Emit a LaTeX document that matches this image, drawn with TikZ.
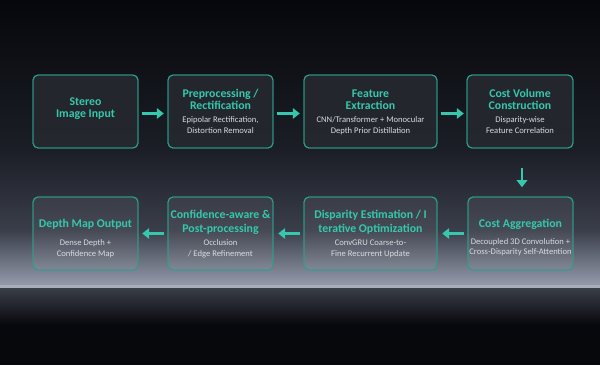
\documentclass[tikz,border=0pt]{standalone}
\usepackage{fontspec}
\setmainfont{Carlito}
\usetikzlibrary{arrows.meta}
\definecolor{teal1}{HTML}{36C8AE}
\definecolor{bord}{HTML}{2E9E8E}
\definecolor{subc}{HTML}{D8DBE0}
\definecolor{bg0}{HTML}{06070B}
\definecolor{bg1}{HTML}{1B1E26}
\definecolor{bg2}{HTML}{3A3E4A}
\definecolor{bg3}{HTML}{959BAB}
\definecolor{bgl}{HTML}{A8ADBA}
\definecolor{bg4}{HTML}{3A3E48}
\definecolor{bg5}{HTML}{07080C}
\definecolor{boxf}{HTML}{25282E}
\tikzset{
  box/.style={draw=bord, line width=0.9pt, rounded corners=5pt},
  boxa/.style={box, fill=boxf, fill opacity=0.92},
  boxb/.style={box, fill=white, fill opacity=0.06},
  ttl/.style={text=teal1, font=\fontsize{11.8}{12}\selectfont\bfseries, anchor=base, inner sep=0pt},
  sub/.style={text=subc, font=\fontsize{8.6}{10}\selectfont, anchor=base, inner sep=0pt},
  arr/.style={draw=teal1, line width=2.8pt, -{Triangle[length=7pt,width=10.5pt]}},
}
\begin{document}
\begin{tikzpicture}[x=1pt,y=-1pt]
\useasboundingbox (0,0) rectangle (600,365);
% background
\fill[bg5] (0,0) rectangle (600,365);
\shade[top color=bg0, bottom color=bg1] (0,0) rectangle (600,150);
\shade[top color=bg1, bottom color=bg2] (0,150) rectangle (600,230);
\shade[top color=bg2, bottom color=bg3] (0,230) rectangle (600,285.5);
\fill[bgl] (0,285) rectangle (600,288);
\shade[top color=bg4, bottom color=bg5] (0,288) rectangle (600,325);
% row 1 boxes
\path[boxa] (33,75) rectangle (138,148);
\node[inner sep=0pt, minimum width=105pt, minimum height=73pt] (b1) at (85.5,111.5) {};
\path[boxa] (168,75) rectangle (273,148);
\node[inner sep=0pt, minimum width=105pt, minimum height=73pt] (b2) at (220.5,111.5) {};
\path[boxa] (304,75) rectangle (437,148);
\node[inner sep=0pt, minimum width=133pt, minimum height=73pt] (b3) at (370.5,111.5) {};
\path[boxa] (467,75) rectangle (573,148);
\node[inner sep=0pt, minimum width=106pt, minimum height=73pt] (b4) at (520,111.5) {};
% row 2 boxes
\path[boxb] (33,197) rectangle (138,270);
\node[inner sep=0pt, minimum width=105pt, minimum height=73pt] (c1) at (85.5,233.5) {};
\path[boxb] (168,197) rectangle (273,270);
\node[inner sep=0pt, minimum width=105pt, minimum height=73pt] (c2) at (220.5,233.5) {};
\path[boxb] (304,197) rectangle (437,270);
\node[inner sep=0pt, minimum width=133pt, minimum height=73pt] (c3) at (370.5,233.5) {};
\path[boxb] (468,197) rectangle (573,270);
\node[inner sep=0pt, minimum width=105pt, minimum height=73pt] (c4) at (520.5,233.5) {};
% borders
\draw[box] (33,75) rectangle (138,148);
\draw[box] (168,75) rectangle (273,148);
\draw[box] (304,75) rectangle (437,148);
\draw[box] (467,75) rectangle (573,148);
\draw[box] (33,197) rectangle (138,270);
\draw[box] (168,197) rectangle (273,270);
\draw[box] (304,197) rectangle (437,270);
\draw[box] (468,197) rectangle (573,270);
% texts row1
\node[ttl] (t1a) at (85.5,105) {Stereo};
\node[ttl] (t1b) at (85.5,117) {Image Input};
\node[ttl] (t2a) at (220.5,97) {Preprocessing /};
\node[ttl] (t2b) at (220.5,109) {Rectification};
\node[sub] (s2a) at (220.5,122) {Epipolar Rectification,};
\node[sub] (s2b) at (220.5,133) {Distortion Removal};
\node[ttl] (t3a) at (370.5,97) {Feature};
\node[ttl] (t3b) at (370.5,109) {Extraction};
\node[sub] (s3a) at (370.5,122) {CNN/Transformer + Monocular};
\node[sub] (s3b) at (370.5,133) {Depth Prior Distillation};
\node[ttl] (t4a) at (520,97) {Cost Volume};
\node[ttl] (t4b) at (520,109) {Construction};
\node[sub] (s4a) at (520,122) {Disparity-wise};
\node[sub] (s4b) at (520,133) {Feature Correlation};
% texts row2
\node[ttl] (u1a) at (85.5,227) {Depth Map Output};
\node[sub] (v1a) at (85.5,245) {Dense Depth +};
\node[sub] (v1b) at (85.5,256) {Confidence Map};
\node[ttl] (u2a) at (220.5,218) {Confidence-aware \&};
\node[ttl] (u2b) at (220.5,232) {Post-processing};
\node[sub] (v2a) at (220.5,245) {Occlusion};
\node[sub] (v2b) at (220.5,256) {/ Edge Refinement};
\node[ttl] (u3a) at (370.5,218) {Disparity Estimation / I};
\node[ttl] (u3b) at (370.5,232) {terative Optimization};
\node[sub] (v3a) at (370.5,245) {ConvGRU Coarse-to-};
\node[sub] (v3b) at (370.5,256) {Fine Recurrent Update};
\node[ttl] (u4a) at (520.5,227) {Cost Aggregation};
\node[sub] (v4a) at (520.5,244) {Decoupled 3D Convolution +};
\node[sub] (v4b) at (520.5,254) {Cross-Disparity Self-Attention};
% arrows
\draw[arr] ([xshift=3.5pt,yshift=-2pt]b1.east) -- ([xshift=-4pt,yshift=-2pt]b2.west);
\draw[arr] ([xshift=3.5pt,yshift=-2pt]b2.east) -- ([xshift=-4pt,yshift=-2pt]b3.west);
\draw[arr] ([xshift=3.5pt,yshift=-2pt]b3.east) -- ([xshift=-3pt,yshift=-2pt]b4.west);
\draw[arr] ([xshift=2pt,yshift=-20pt]b4.south) -- ([xshift=2pt,yshift=-39pt]b4.south);
\draw[arr] ([xshift=-4pt]c4.west) -- ([xshift=5pt]c3.east);
\draw[arr] ([xshift=-4pt]c3.west) -- ([xshift=5pt]c2.east);
\draw[arr] ([xshift=-4pt]c2.west) -- ([xshift=4pt]c1.east);
\end{tikzpicture}
\end{document}
